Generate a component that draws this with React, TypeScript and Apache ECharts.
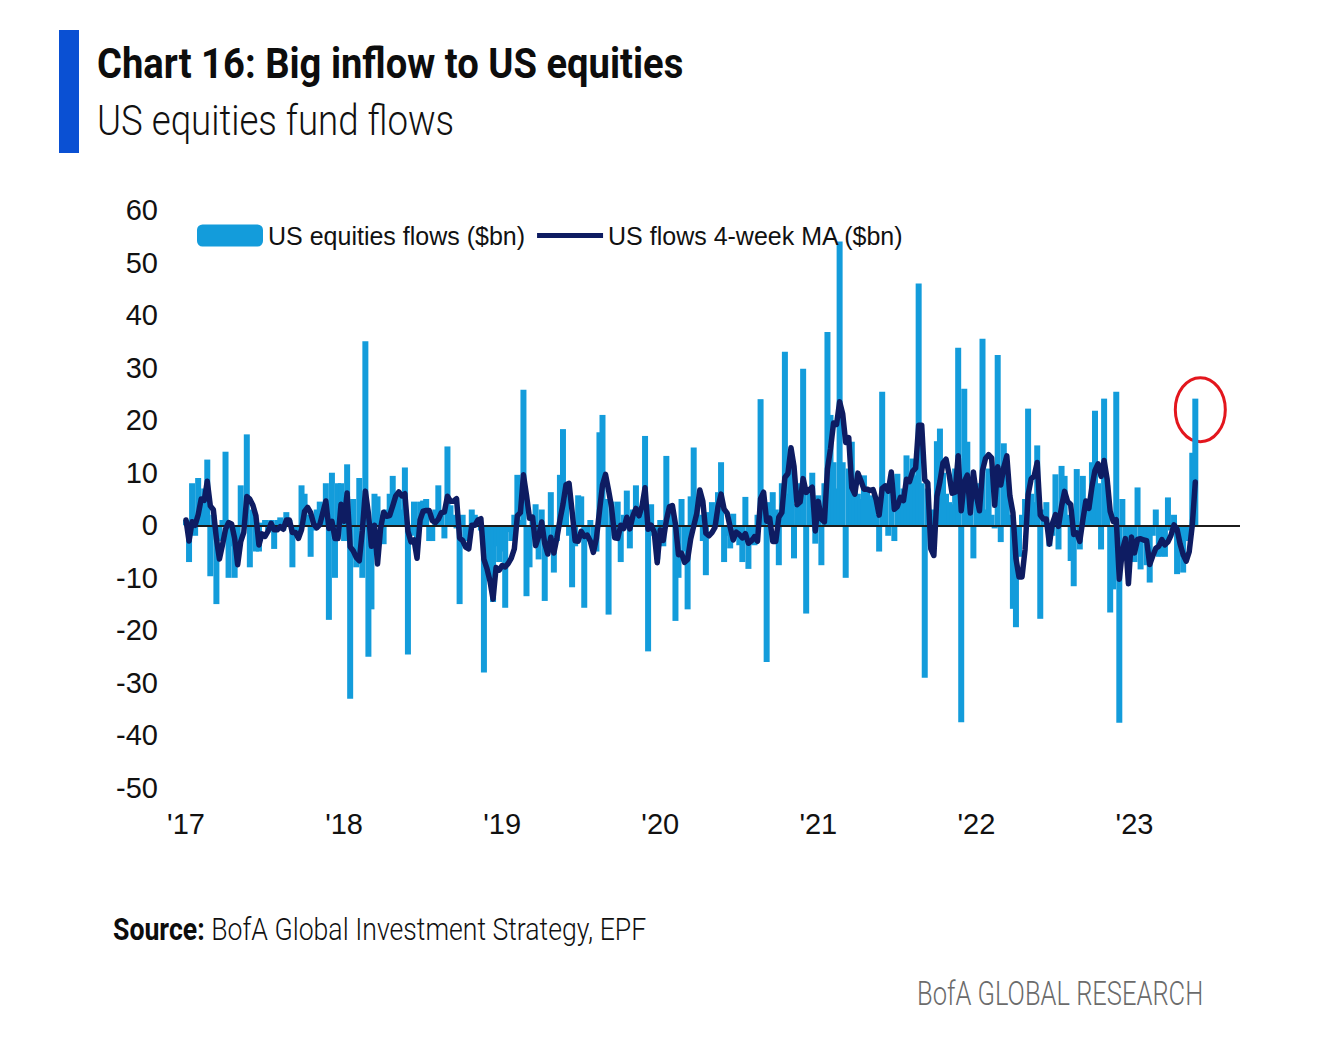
import React, { useEffect, useRef } from 'react';
import * as echarts from 'echarts';

// weekly US equity fund flows, $bn (one value per week)
const flows2017 = [
  1, -7, 8, -2, 9, 5, 7, 12.5, -9.7, 2,
  -15, -3, 1, 14, -10, -4, -10, -6, 7.6, 3,
  17.3, -8, 3, -5, -5, 0.5, 1, -1, 1, -4.5,
  1, 1.5, -1, 2.5, 1, -8, -1, -2, 7.6, 6,
  2, -6, -1, 3, 4.5, 3, 8, -18, 10, -10,
  8, 8,
];
const flows2018 = [
  -3, 11.6, -33, 5, -8, 9, -10, 35, -25, -16,
  6, 5.5, 2, -3.6, 3, 6, 9.4, 4, 6, 3,
  11, -24.6, -2, 4.5, -3, 4.5, 4.7, 5, -3, -3,
  3, 7.6, 2, -2.5, 15, 3.8, 2, -0.6, -15, 2,
  -3, -2, 3, 2, 1, -1, -28, -5, -8.6, -14.6,
  -4, -7,
];
const flows2019 = [
  -5, -15.7, -1.3, -3, 2, 9.6, 1, 25.8, -13.5, -8,
  2, 4, -6.5, 3, -14.4, -4, 6.3, -9, -3, 9.6,
  18.3, 6, -2, -11.8, -4, 5.7, 5.5, -15.7, -3, 1,
  -3, -5, 17.7, 21, 5, -17, 4.5, -2, 4.5, -7,
  2, 6.6, -4.4, 3, 7.6, 1, 3, 17, -24, 4,
  -2, -6.5,
];
const flows2020 = [
  1, -4, 13.2, 3.8, 2, -18.2, -10, 5, -5, -16,
  5.5, 14.8, 4.5, 2, -3, -9.5, 2.5, 4.4, 1, 6.3,
  12, -7, -2, -4.4, 2.2, -1, -3.8, -7, 5.4, -8.3,
  -2, -3.8, 2, 24, 3, -26, 4.4, 6.3, 3, -7.6,
  8, 33, 6, 12, -6.3, 4, 8, 29.8, -16.8, 6,
  10, -3.5,
];
const flows2021 = [
  5.7, -7.6, 8, 36.8, 21, 12, 7, 54, 12, -10,
  10.8, 15.9, 7, 6, 5, 9.5, 7, 5, 5.7, 2,
  -5, 25.4, 7.6, -2, 9.5, -3, 9.8, 5, 7, 13.3,
  8, 12.7, 9.5, 46, 8, -29, 7, -4, 3, 16,
  18.4, 10, 6, 4.4, 4, 10.8, 33.8, -37.5, 26, 15.9,
  5, -6.3,
];
const flows2022 = [
  8, 4.4, 35.5, 3, 10.8, 2, -0.6, 32.4, -3.2, 15.6,
  8, 2, -15.9, -19.4, -6, 2, 5, 22.2, 6, 4.4,
  15.2, -17.8, 3, 4.4, -4, -2, 9.7, -4.6, 11.3, 9.4,
  2, -6.8, -11.6, 10.7, -4.6, 9.4, 3, 5, 12, 21.8,
  8, -4.6, 24.1, 7.6, -16.6, -12.2, 25.4, -37.6, 5, -3,
  -9, -2,
];
const flows2023 = [
  -7, 7.2, -8.4, -3, -7.6, -10.9, -2, 3, -6, -5.9,
  -6, 5.3, -1, 2, -9.3, -6, -9, -3, -2, 13.8,
  24.1,
];

const yearLabels = ["'17", "'18", "'19", "'20", "'21", "'22", "'23"];
const weeksPerYear = 52;

const usFlows = [
  ...flows2017, ...flows2018, ...flows2019, ...flows2020,
  ...flows2021, ...flows2022, ...flows2023,
];

// 4-week moving average of the weekly flows (trailing window)
const maWeeks = 4;
const usFlowsMA = usFlows.map((_, i) => {
  const win = usFlows.slice(Math.max(0, i - maWeeks + 1), i + 1);
  return win.reduce((a, b) => a + b, 0) / win.length;
});

const narrow = "'Liberation Sans Narrow', 'Arial Narrow', 'Liberation Sans', sans-serif";
const barBlue = '#139cdb';
const navy = '#0e1c62';

const App: React.FC = () => {
  const chartRef = useRef<HTMLDivElement>(null);

  useEffect(() => {
    if (!chartRef.current) return undefined;
    const chart = echarts.init(chartRef.current, undefined, { renderer: 'svg' });

    const option: any = {
      animation: false,
      backgroundColor: '#ffffff',
      grid: { left: 186, right: 92, top: 210, bottom: 260 },
      legend: {
        left: 197,
        top: 223,
        padding: 0,
        itemGap: 12,
        itemWidth: 66,
        itemHeight: 22,
        selectedMode: false,
        textStyle: { fontSize: 25, fontFamily: narrow, color: '#111' },
        data: [
          { name: 'US equities flows ($bn)', icon: 'roundRect' },
          { name: 'US flows 4-week MA ($bn)', icon: 'path://M0,0L66,0L66,5L0,5Z' },
        ],
      },
      xAxis: {
        type: 'value',
        min: 0,
        max: 346.7,
        interval: weeksPerYear,
        axisLine: { show: false },
        axisTick: { show: false },
        splitLine: { show: false },
        axisLabel: {
          margin: 21,
          fontSize: 29,
          fontFamily: narrow,
          color: '#111',
          showMaxLabel: false,
          formatter: (v: number) =>
            v % weeksPerYear === 0 ? yearLabels[v / weeksPerYear] ?? '' : '',
        },
      },
      yAxis: {
        type: 'value',
        min: -50,
        max: 60,
        interval: 10,
        axisLine: { show: false },
        axisTick: { show: false },
        splitLine: { show: false },
        axisLabel: { margin: 28, fontSize: 29, fontFamily: narrow, color: '#111' },
      },
      series: [
        {
          name: 'US equities flows ($bn)',
          type: 'bar',
          data: usFlows.map((v, i) => [i, v]),
          barWidth: 6,
          clip: false,
          itemStyle: { color: barBlue },
          markLine: {
            silent: true,
            symbol: ['none', 'none'],
            label: { show: false },
            lineStyle: { color: '#1c1c1c', width: 2, type: 'solid' },
            data: [{ yAxis: 0 }],
          },
        },
        {
          name: 'US flows 4-week MA ($bn)',
          type: 'line',
          data: usFlowsMA.map((v, i) => [i, v]),
          symbol: 'none',
          z: 5,
          itemStyle: { color: navy },
          lineStyle: { color: navy, width: 5.5, join: 'round', cap: 'round' },
        },
      ],
      graphic: [
        { type: 'rect', shape: { x: 59, y: 30, width: 20, height: 123 }, style: { fill: '#0a50d3' } },
        {
          type: 'text', x: 97, y: 64, scaleX: 0.909,
          style: {
            text: 'Chart 16: Big inflow to US equities',
            fontFamily: 'Roboto', fontWeight: 'bold', fontSize: 42,
            fill: '#0d0d0d', align: 'left', verticalAlign: 'middle',
          },
        },
        {
          type: 'text', x: 97, y: 121, scaleX: 0.872,
          style: {
            text: 'US equities fund flows',
            fontFamily: 'Roboto', fontWeight: 300, fontSize: 42,
            fill: '#111', align: 'left', verticalAlign: 'middle',
          },
        },
        {
          type: 'text', x: 113, y: 929, scaleX: 0.833,
          style: {
            text: '{b|Source:}{l| BofA Global Investment Strategy, EPF}',
            align: 'left', verticalAlign: 'middle',
            rich: {
              b: { fontFamily: 'Roboto', fontWeight: 'bold', fontSize: 32, fill: '#0d0d0d' },
              l: { fontFamily: 'Roboto', fontWeight: 300, fontSize: 32, fill: '#111' },
            },
          },
        },
        {
          type: 'text', x: 917, y: 994, scaleX: 0.773,
          style: {
            text: 'BofA GLOBAL RESEARCH',
            fontFamily: 'Roboto', fontWeight: 300, fontSize: 33,
            fill: '#6b6b6b', align: 'left', verticalAlign: 'middle',
          },
        },
      ],
    };
    chart.setOption(option);

    // red ring around the latest week's bar
    const last = usFlows.length - 1;
    const pt = chart.convertToPixel({ seriesIndex: 0 }, [last, usFlows[last]]) as number[];
    chart.setOption({
      graphic: [
        {
          id: 'latest-ring',
          type: 'ellipse',
          shape: { cx: pt[0] + 5, cy: pt[1] + 11, rx: 25, ry: 32 },
          style: { fill: 'none', stroke: '#e3161d', lineWidth: 3 },
        },
      ],
    });

    return () => {
      chart.dispose();
    };
  }, []);

  return (
    <div
      ref={chartRef}
      style={{ position: 'absolute', left: 0, top: 0, width: '1332px', height: '1048px' }}
    />
  );
};

export default App;
